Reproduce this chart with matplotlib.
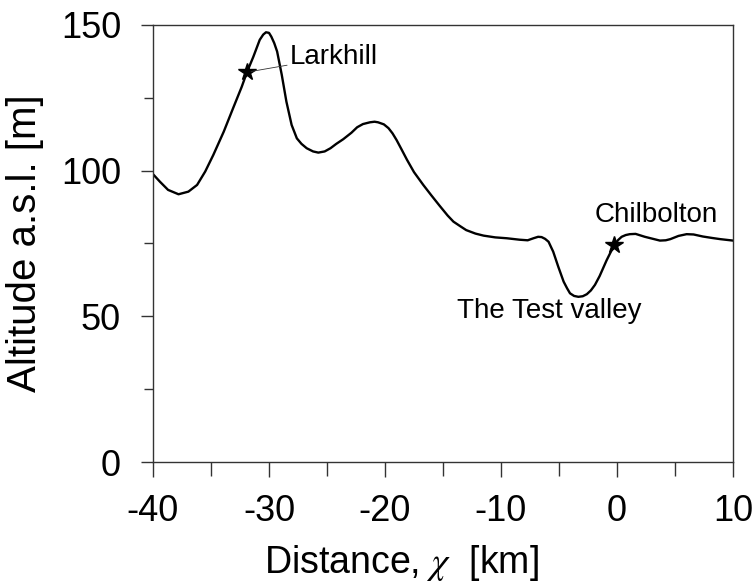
import matplotlib
matplotlib.use("Agg")
import matplotlib.pyplot as plt
from matplotlib.ticker import MultipleLocator

plt.rcParams['font.family'] = ['Liberation Sans', 'DejaVu Sans']
plt.rcParams['mathtext.fontset'] = 'stix'

# Terrain profile along the transect (distance in km, altitude in m)
distance_km = [-40.0, -39.4, -38.7, -37.8, -36.95, -36.2, -35.5, -34.8, -33.9,
               -33.1, -32.35, -31.9, -31.35, -30.8, -30.5, -30.26, -30.0, -29.8,
               -29.55, -29.3, -28.9, -28.5, -28.05, -27.6, -27.2, -26.75, -26.2,
               -25.75, -25.2, -24.7, -24.2, -23.6, -22.9, -22.4, -21.9, -21.3,
               -20.9, -20.6, -20.1, -19.7, -19.35, -19.0, -18.6, -18.1, -17.5,
               -16.7, -16.0, -15.3, -14.6, -14.1, -13.5, -13.0, -12.2, -11.5,
               -10.5, -9.5, -8.4, -7.7, -7.2, -6.8, -6.5, -6.2, -5.9, -5.5,
               -5.06, -4.6, -4.3, -4.05, -3.7, -3.33, -2.95, -2.6, -2.25, -1.9,
               -1.5, -1.2, -0.9, -0.6, -0.23, 0.1, 0.4, 0.75, 1.1, 1.6, 2.4,
               3.2, 3.7, 4.2, 4.6, 5.3, 6.0, 6.6, 7.4, 8.2, 8.9, 10.0]
altitude_m = [98.8, 96.2, 93.4, 91.9, 92.8, 95.1, 99.7, 105.4, 113.4,
              121.4, 128.8, 133.8, 139.1, 144.9, 146.7, 147.5, 147.3, 146.0,
              143.8, 140.9, 132.9, 123.7, 115.7, 111.1, 109.2, 107.7, 106.6,
              106.2, 106.6, 107.7, 109.2, 110.8, 113.0, 114.9, 116.0, 116.6,
              116.8, 116.6, 115.9, 114.6, 112.8, 110.5, 107.5, 103.7, 99.5,
              95.1, 91.5, 88.0, 84.6, 82.5, 80.9, 79.6, 78.4, 77.7,
              77.1, 76.8, 76.3, 76.1, 76.8, 77.3, 77.2, 76.6, 75.6, 72.2,
              67.0, 61.9, 59.6, 57.9, 57.0, 56.7, 56.9, 57.6, 58.9, 60.8,
              63.8, 66.5, 69.2, 71.6, 74.5, 76.2, 77.3, 77.9, 78.2, 78.3, 77.3,
              76.5, 76.0, 76.1, 76.5, 77.6, 78.2, 78.1, 77.4, 76.9, 76.5, 76.0]

# Named sites on the profile
site_names = ["Larkhill", "Chilbolton"]
site_x = [-31.9, -0.25]
site_alt = [133.8, 74.6]

x_ticks = [-40, -30, -20, -10, 0, 10]
y_ticks = [0, 50, 100, 150]

fig = plt.figure(figsize=(7.56, 5.85), dpi=100)
ax = fig.add_axes([153 / 756, 1 - 462 / 585, 580 / 756, 437 / 585])

ax.plot(distance_km, altitude_m, color='black', lw=1.7,
        solid_joinstyle='round', solid_capstyle='round')
ax.plot(site_x, site_alt, ls='none', marker='*', ms=13, color='black')

# Site labels
ax.annotate(site_names[0], xy=(site_x[0], site_alt[0]), xytext=(-28.2, 139.0),
            fontsize=20, va='center', ha='left',
            arrowprops=dict(arrowstyle='-', color='#333333', lw=0.6,
                            shrinkA=0, shrinkB=3))
ax.text(3.4, 84.8, site_names[1], fontsize=20, ha='center', va='center')
ax.text(-5.85, 52.0, "The Test valley", fontsize=20, ha='center', va='center')

ax.set_xlim(-40, 10)
ax.set_ylim(0, 150)
ax.set_xticks(x_ticks)
ax.set_yticks(y_ticks)
ax.set_xticklabels([str(v) for v in x_ticks])
ax.set_yticklabels([str(v) for v in y_ticks])
ax.xaxis.set_minor_locator(MultipleLocator(5))
ax.yaxis.set_minor_locator(MultipleLocator(25))

ax.tick_params(axis='x', which='major', direction='out', length=11, width=1,
               labelsize=26, pad=12, color='#333333')
ax.tick_params(axis='x', which='minor', direction='out', length=10, width=1,
               color='#333333')
ax.tick_params(axis='y', which='major', direction='out', length=9, width=1,
               labelsize=26, pad=14, color='#333333')
ax.tick_params(axis='y', which='minor', direction='out', length=6.5, width=1,
               color='#333333')

for s in ax.spines.values():
    s.set_linewidth(1.0)
    s.set_color('#333333')

ax.set_xlabel(r"Distance, $\chi$  [km]", fontsize=27)
ax.xaxis.set_label_coords(0.428, -0.185)
ax.set_ylabel("Altitude a.s.l. [m]", fontsize=29, labelpad=12)

fig.savefig("out.png", dpi=100)
